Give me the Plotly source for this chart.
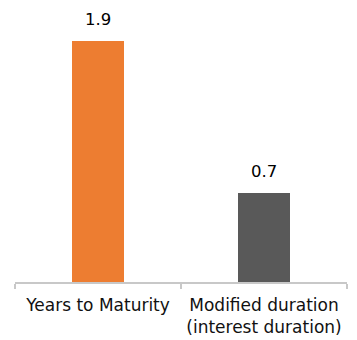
import plotly.graph_objects as go

categories = ["Years to Maturity", "Modified duration<br>(interest duration)"]
values = [1.9, 0.7]
bar_colors = ["#ED7D31", "#595959"]

fig = go.Figure(
    go.Bar(
        x=categories,
        y=values,
        marker=dict(color=bar_colors, line=dict(width=0)),
        width=0.313,
        hoverinfo="skip",
    )
)

# value labels above each bar
for cat, val in zip(categories, values):
    fig.add_annotation(
        x=cat, y=val, text=f"{val:.1f}", showarrow=False,
        yanchor="bottom", yshift=10,
        font=dict(family="DejaVu Sans", size=16.5, color="#000000"),
    )

fig.update_layout(
    width=357, height=340,
    margin=dict(l=15, r=10, t=10, b=58, autoexpand=False),
    paper_bgcolor="white", plot_bgcolor="white",
    showlegend=False,
    font=dict(family="DejaVu Sans", size=17, color="#111111"),
    bargap=0,
)
fig.update_xaxes(
    showline=True, linecolor="#c8c8c8", linewidth=1.5,
    ticks="outside", tickson="boundaries", ticklen=5, tickcolor="#c8c8c8", tickwidth=1.5,
    showgrid=False, tickfont=dict(size=17), ticklabelstandoff=7, automargin=False,
)
fig.update_yaxes(visible=False, range=[0, 2.144], showgrid=False, zeroline=False)

fig.write_html("out.html")
